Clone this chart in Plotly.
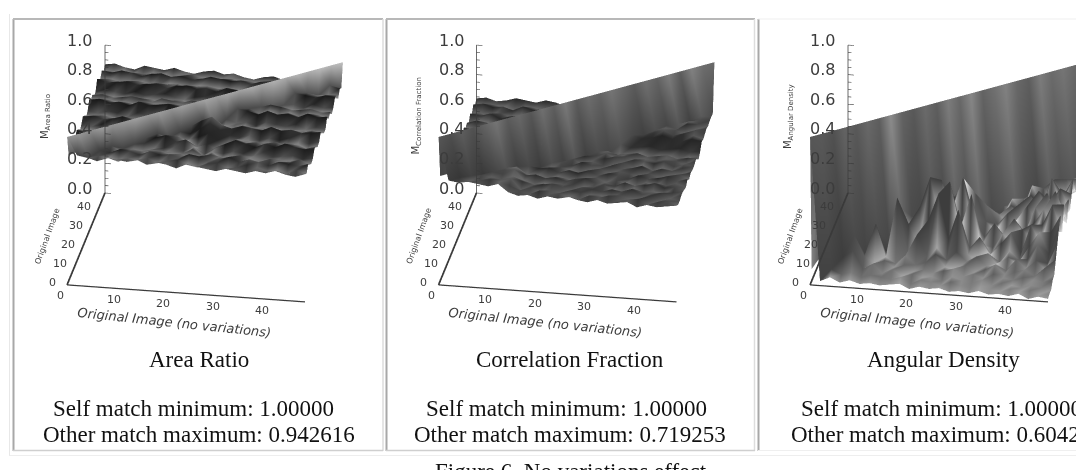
import math
import numpy as np
import plotly.graph_objects as go

# Match scores on a 2-unit image grid, in hundredths.
# Rows run from image 48 (back) down to image 0 (front); columns run from image 0 to 48.
image_index = list(range(0, 49, 2))
self_match = 1.0

area_ratio = [
    [87,88,86,85,88,87,86,88,86,85,87,88,86,87,85,84,86,87,85,86,88,87,85,86,88],
    [84,85,86,84,85,86,85,84,86,87,85,84,85,86,84,85,84,83,85,86,84,85,86,84,85],
    [88,87,89,88,86,88,89,87,88,86,87,89,88,87,88,86,88,89,87,88,86,87,88,89,87],
    [85,84,83,85,84,82,84,85,83,84,85,83,84,82,84,85,84,86,83,84,85,83,84,85,83],
    [86,88,87,86,88,87,85,87,88,86,87,88,86,88,87,84,87,88,86,87,85,88,87,86,88],
    [90,88,89,90,88,89,90,87,89,90,88,89,87,90,89,88,90,89,88,87,90,89,88,90,89],
    [84,86,85,84,86,84,85,86,84,83,85,86,84,85,83,86,84,85,86,84,85,83,86,84,85],
    [83,82,84,83,81,83,84,82,83,85,82,83,84,82,83,84,82,85,83,82,84,83,82,84,83],
    [87,88,86,87,88,87,85,88,87,86,88,87,89,86,87,88,86,87,89,88,86,87,88,86,87],
    [86,85,87,85,86,84,87,86,85,87,86,84,86,87,85,86,88,85,86,84,87,85,86,87,85],
    [89,90,88,89,87,90,88,89,90,88,89,90,87,89,88,90,89,87,90,88,89,87,90,88,89],
    [84,83,85,84,82,85,84,83,84,85,83,84,81,84,85,83,84,82,85,84,83,85,82,84,83],
    [82,84,83,81,84,82,83,84,81,83,82,84,83,80,82,84,83,81,84,82,83,81,84,82,83],
    [86,85,87,86,84,86,87,85,86,87,85,86,88,85,86,84,87,86,85,87,84,86,85,87,86],
    [88,89,87,88,90,87,88,89,87,90,88,87,91,94,89,87,89,88,87,90,88,89,87,88,89],
    [85,84,86,85,83,86,84,85,83,86,85,84,88,92,88,85,84,86,83,85,84,86,85,83,85],
    [83,85,82,84,83,81,84,82,85,83,81,82,85,88,84,82,83,85,82,84,81,83,85,82,84],
    [87,86,88,86,87,89,85,87,88,86,87,85,81,83,80,84,88,86,87,85,88,86,87,85,87],
    [89,87,90,88,86,89,90,87,88,90,86,88,83,79,84,87,90,88,86,89,87,90,88,87,88],
    [84,86,83,85,84,82,85,86,83,84,85,83,86,80,85,83,85,84,82,86,83,84,85,83,84],
    [82,83,85,81,83,84,82,83,85,82,84,83,87,83,86,82,84,81,85,83,82,84,83,81,83],
    [86,87,85,86,88,85,87,86,84,87,85,86,84,85,87,86,85,88,86,84,87,85,86,88,85],
    [88,86,89,87,86,89,88,86,89,87,88,86,89,88,85,87,89,86,88,87,85,88,87,86,88],
    [85,87,84,86,85,83,86,85,87,84,86,87,85,83,86,87,84,85,87,86,84,85,83,86,84],
    [86,88,87,85,88,87,86,88,85,87,86,84,87,86,85,84,86,85,84,86,85,87,85,84,87],
]

correlation_fraction = [
    [64,65,63,64,66,65,64,66,65,63,65,64,66,65,64,63,65,64,66,65,63,65,64,66,65],
    [62,61,63,62,60,62,63,61,62,60,62,63,61,60,62,61,63,62,60,62,61,63,62,60,68],
    [65,66,64,65,63,66,64,65,66,64,63,65,64,66,65,63,64,66,65,63,64,65,63,68,68],
    [61,62,60,63,61,62,60,61,63,62,61,60,62,61,63,60,62,61,63,60,62,62,67,68,68],
    [64,63,65,62,64,65,63,64,62,65,63,64,65,63,62,64,65,63,64,62,63,67,69,68,67],
    [60,62,61,59,61,62,60,62,61,59,62,60,61,62,60,61,59,62,60,61,68,66,70,67,68],
    [63,65,64,62,65,63,64,65,62,64,65,63,62,64,65,63,64,62,65,67,69,68,66,69,67],
    [62,60,63,61,60,62,63,60,62,61,63,60,62,61,60,62,63,61,66,68,70,67,69,68,66],
    [65,64,62,65,63,64,66,63,65,62,64,65,63,64,66,63,65,68,66,67,69,67,66,68,67],
    [61,63,62,60,62,61,63,61,60,63,62,61,63,60,62,61,64,62,63,64,62,63,64,62,63],
    [64,62,65,63,61,64,62,65,63,64,62,65,63,61,64,60,59,60,61,59,60,60,59,61,60],
    [62,64,61,63,65,62,64,63,61,65,63,62,64,63,63,64,62,63,64,62,63,64,62,63,64],
    [62,64,63,61,64,62,63,65,62,64,63,61,64,62,63,65,62,64,61,63,62,64,63,61,64],
    [65,63,66,64,62,65,63,64,66,63,65,64,62,65,63,64,66,62,65,64,63,65,62,64,63],
    [66,68,66,67,65,66,63,61,63,64,62,63,65,61,64,62,63,65,62,64,61,63,62,64,63],
    [68,67,69,68,67,66,68,65,64,66,64,65,63,66,64,62,65,63,64,66,63,65,64,62,64],
    [66,68,67,69,68,70,67,68,66,63,62,64,63,61,63,65,62,64,63,61,64,62,63,65,62],
    [70,69,68,70,69,71,68,69,66,65,66,63,65,64,66,63,65,64,62,65,63,64,66,63,65],
    [68,70,69,68,70,69,71,68,63,62,61,63,62,60,62,64,61,63,62,60,63,61,62,64,62],
    [70,71,70,69,71,70,69,70,65,66,64,65,63,65,66,63,64,62,65,63,64,66,63,64,63],
    [69,70,72,71,70,69,70,71,64,62,63,61,63,64,62,63,65,62,61,64,62,63,61,63,64],
    [71,69,70,71,69,71,70,69,66,64,65,66,64,62,65,64,63,65,64,66,63,64,65,62,64],
    [70,71,69,70,71,70,69,70,63,65,62,64,63,65,64,62,63,61,64,62,63,65,62,64,63],
    [71,70,71,69,70,71,70,68,65,63,66,64,65,63,62,65,64,66,63,64,65,62,64,65,63],
    [70,71,70,71,70,69,71,66,64,65,63,65,64,66,64,63,65,63,64,65,62,64,63,64,65],
]

angular_density = [
    [18,16,20,15,17,19,16,15,18,17,16,19,17,15,18,16,19,17,16,18,17,15,18,16,24],
    [15,18,16,19,16,17,18,15,17,16,19,16,18,17,15,19,16,17,18,16,18,17,19,22,26],
    [19,16,17,15,18,16,18,20,16,17,19,15,17,19,16,18,16,17,19,17,15,18,21,24,28],
    [16,18,15,18,17,19,16,17,19,16,15,18,17,18,16,19,17,16,15,19,17,20,24,28,30],
    [18,15,19,16,17,16,18,17,15,19,18,16,19,16,17,15,18,17,20,16,18,22,26,30,26],
    [16,17,17,19,15,18,16,19,17,16,18,17,15,18,19,16,17,19,16,18,20,24,32,26,34],
    [18,16,18,16,19,17,15,17,19,16,18,16,19,17,15,18,16,18,19,22,19,30,24,36,28],
    [17,19,16,17,16,18,20,16,17,18,15,19,16,18,19,16,17,15,20,18,28,22,38,26,32],
    [15,17,19,16,18,16,17,19,15,18,16,17,16,19,17,18,16,20,18,26,20,34,24,30,42],
    [18,16,18,17,16,19,16,18,17,16,19,17,15,18,16,20,18,17,28,20,38,24,44,26,34],
    [16,19,17,18,19,15,18,16,17,19,16,18,17,19,18,16,22,14,26,18,34,20,30,40,26],
    [17,16,20,16,17,18,17,19,16,18,17,16,19,17,14,24,16,22,16,30,18,40,24,18,36],
    [19,17,16,18,16,18,15,17,19,16,20,17,19,12,22,14,30,18,26,14,32,20,42,26,22],
    [16,18,17,20,15,19,17,16,18,17,15,19,16,30,18,40,22,16,12,24,16,34,22,46,30],
    [18,16,19,17,18,16,19,18,16,19,17,12,28,40,52,26,14,24,14,28,18,26,36,20,40],
    [19,17,16,19,18,15,18,20,17,15,14,34,44,22,56,18,12,10,20,12,24,16,28,42,24],
    [17,19,18,16,20,17,20,16,14,30,16,44,56,36,24,48,12,8,16,24,10,30,18,26,38],
    [20,16,18,20,17,21,16,18,38,14,40,60,30,58,26,14,22,10,6,14,8,18,28,14,32],
    [17,20,17,19,21,24,18,16,12,30,16,34,52,22,42,12,8,14,6,12,8,12,22,10,24],
    [20,18,20,17,16,20,28,10,50,12,26,12,18,10,16,10,14,8,10,6,14,8,14,8,16],
    [16,21,18,24,17,12,34,12,8,14,8,10,16,8,6,10,6,8,12,6,8,10,6,12,8],
    [19,15,17,21,28,14,10,12,8,10,6,8,6,8,10,5,7,5,8,6,5,7,6,5,7],
    [12,17,10,15,20,8,12,6,9,5,7,5,6,4,7,5,4,6,3,5,4,3,5,4,3],
    [8,6,9,6,8,5,7,6,5,7,3,6,5,3,6,4,3,4,3,2,4,3,4,2,3],
    [6,3,6,3,5,3,4,3,4,5,2,4,3,4,2,3,2,4,2,3,2,4,1,3,2],
]

# Grey level of the ridge crest at each image index.
area_ridge_tone = [58,60,55,62,58,60,63,60,62,58,63,60,65,62,66,64,68,65,70,67,72,68,74,72,76]
correlation_ridge_tone = [34,31,37,32,39,46,36,41,34,44,37,48,36,43,39,46,41,36,44,39,49,37,51,43,41]
angular_ridge_tone = [34,35,32,39,35,41,37,55,39,35,42,37,49,41,53,39,44,51,41,37,49,42,46,41,44]

panel_titles = ["Area Ratio", "Correlation Fraction", "Angular Density"]
self_lines = ["Self match minimum: 1.00000"] * 3
other_lines = ["Other match maximum: 0.942616", "Other match maximum: 0.719253", "Other match maximum: 0.6042"]
z_titles = ["M<sub>Area Ratio</sub>", "M<sub>Correlation Fraction</sub>", "M<sub>Angular Density</sub>"]
z_ticks = [0.0, 0.2, 0.4, 0.6, 0.8, 1.0]
x_ticks = [10, 20, 30, 40]
y_ticks = [0, 10, 20, 30, 40]
AXIS_MAX = 48

W, H = 1076, 470
AZ = math.radians(9.75)
EL = math.radians(24.6)
ASPECT = dict(x=1.392, y=1.291, z=0.938)
EYE_DIST = 2.0
PX_PER_UNIT = 173.5
SCENE_H = 347
PANEL_INK = "#3a3a3a"
TEXT_INK = "#3c3c3c"


def shaded(values, tone, base, gain, soft, foot):
    """Hill-shade a score matrix into grey levels, with the diagonal taken from tone."""
    z = np.array(values, dtype=float) / 100.0
    n = z.shape[0]
    toward_viewer = np.zeros_like(z)
    toward_viewer[:-1, :] = z[:-1, :] - z[1:, :]
    across = np.zeros_like(z)
    across[:, :-1] = z[:, 1:] - z[:, :-1]
    grey = base - gain * np.tanh((toward_viewer + 0.4 * across) / soft)
    for j in range(n):
        k = n - 1 - j
        z[k, j] = self_match
        grey[k, j] = tone[j] / 100.0
        if j + 1 < n:
            grey[k, j + 1] = tone[j] / 100.0 * foot
    return z[::-1], grey[::-1]


def cell_triangles(n):
    """Vertex indices for the grid, with each cell split along the self-match line."""
    i, j, k = [], [], []
    for r in range(n - 1):
        for c in range(n - 1):
            a, b, d, e = r * n + c, r * n + c + 1, (r + 1) * n + c, (r + 1) * n + c + 1
            i += [a, a]
            j += [b, e]
            k += [e, d]
    return i, j, k


panels = [
    (area_ratio, area_ridge_tone, 0.34, 0.26, 0.035, 0.45),
    (correlation_fraction, correlation_ridge_tone, 0.30, 0.16, 0.03, 0.70),
    (angular_density, angular_ridge_tone, 0.58, 0.34, 0.06, 0.75),
]
# Left edge, right edge and the x pixel of the cube centre for each panel.
frames = [(0, 410, 205.0), (371, 782, 576.5), (756, 1076, 948.0)]
grey_scale = [[0, "#000000"], [1, "#ffffff"]]
grid_x, grid_y = np.meshgrid(image_index, image_index)
tri_i, tri_j, tri_k = cell_triangles(len(image_index))


def scene_layout(left, right, cube_cx, annotations=None):
    mid = (left + right) / 2.0
    off = (cube_cx - mid) / PX_PER_UNIT
    cx, cy = -off * math.cos(AZ), -off * math.sin(AZ)
    hidden = dict(visible=False, showgrid=False, zeroline=False, showspikes=False)
    return dict(
        domain=dict(x=[left / W, right / W], y=[1 - SCENE_H / H, 1]),
        aspectmode="manual",
        aspectratio=ASPECT,
        bgcolor="rgba(0,0,0,0)",
        xaxis=dict(range=[0, AXIS_MAX], **hidden),
        yaxis=dict(range=[0, AXIS_MAX], **hidden),
        zaxis=dict(range=[0, 1], **hidden),
        camera=dict(
            projection=dict(type="orthographic"),
            up=dict(x=0, y=0, z=1),
            center=dict(x=cx, y=cy, z=0),
            eye=dict(
                x=cx + EYE_DIST * math.cos(EL) * math.sin(AZ),
                y=cy - EYE_DIST * math.cos(EL) * math.cos(AZ),
                z=EYE_DIST * math.sin(EL),
            ),
        ),
        annotations=annotations or [],
    )


def note(x, y, z, text, dx, dy, size=12, angle=0, font="DejaVu Sans"):
    return dict(
        x=x, y=y, z=z, text=text, showarrow=False, xshift=dx, yshift=-dy, textangle=angle,
        font=dict(family=font, size=size, color=TEXT_INK),
    )


def axis_frame(scene_name):
    """Axis lines and tick marks, held in a scene laid over the surface."""
    out = []
    lines = [
        ([0, AXIS_MAX], [0, 0], [0, 0], 2.5),
        ([0, 0], [0, AXIS_MAX], [0, 0], 3.5),
        ([0, 0], [AXIS_MAX, AXIS_MAX], [0, 1], 1.5),
    ]
    for xs, ys, zs, width in lines:
        out.append(go.Scatter3d(x=xs, y=ys, z=zs, mode="lines", scene=scene_name, hoverinfo="skip",
                                showlegend=False, line=dict(color=PANEL_INK, width=width)))
    tick_x, tick_y, tick_z = [], [], []
    for v in np.arange(0, 1.0001, 0.05):
        reach = 1.2 if round(v * 100) % 20 == 0 else 0.7
        tick_x += [0, reach, None]
        tick_y += [AXIS_MAX, AXIS_MAX, None]
        tick_z += [float(v), float(v), None]
    out.append(go.Scatter3d(x=tick_x, y=tick_y, z=tick_z, mode="lines", scene=scene_name, hoverinfo="skip",
                            showlegend=False, line=dict(color=PANEL_INK, width=1.2)))
    return out


fig = go.Figure()
scenes = {}
for p, (values, tone, base, gain, soft, foot) in enumerate(panels):
    z, grey = shaded(values, tone, base, gain, soft, foot)
    left, right, cube_cx = frames[p]
    surf_name = f"scene{2 * p + 1}" if p else "scene"
    over_name = f"scene{2 * p + 2}"
    fig.add_trace(go.Mesh3d(
        x=grid_x.ravel(), y=grid_y.ravel(), z=z.ravel(), i=tri_i, j=tri_j, k=tri_k,
        intensity=grey.ravel(), intensitymode="vertex", scene=surf_name,
        colorscale=grey_scale, cmin=0, cmax=1, showscale=False, hoverinfo="skip",
        lighting=dict(ambient=1, diffuse=0, specular=0, fresnel=0, roughness=1),
    ))
    for trace in axis_frame(over_name):
        fig.add_trace(trace)

    labels = []
    for t in z_ticks:
        labels.append(note(0, AXIS_MAX, t, f"{t:.1f}", -25, -5, size=16))
    for t in x_ticks:
        labels.append(note(t, 0, 0, str(t), -3, 11, size=11))
    labels.append(note(0, 0, 0, "0", -7, 11, size=11))
    for t in y_ticks:
        labels.append(note(0, t, 0, str(t), -15, -2, size=11))
    labels.append(note(24, 0, 0, "<i>Original Image (no variations)</i>", -12, 29, size=13, angle=6))
    labels.append(note(0, 24, 0, "Original Image", -38, -3, size=8, angle=-70))
    labels.append(note(0, AXIS_MAX, 0.52, z_titles[p], -60, 0, size=10, angle=-90))

    scenes[surf_name] = scene_layout(left, right, cube_cx)
    scenes[over_name] = scene_layout(left, right, cube_cx, labels)

# Table rules: (x0, y0, x1, y1, colour, width).
rules = [
    (9.5, 14, 9.5, 456, "#e8e8e8", 1),
    (9.5, 455.5, 1076, 455.5, "#eeeeee", 1),
    (13.5, 19, 13.5, 451, "#a8a8a8", 2),
    (13, 19, 383, 19, "#b8b8b8", 2),
    (383, 19, 383, 451, "#dddddd", 1.5),
    (13, 450.5, 383, 450.5, "#cfcfcf", 1.5),
    (386.5, 19, 386.5, 451, "#a8a8a8", 2),
    (386, 19, 755, 19, "#b8b8b8", 2),
    (754.5, 19, 754.5, 451, "#dddddd", 1.5),
    (386, 450.5, 755, 450.5, "#cfcfcf", 1.5),
    (758.5, 19, 758.5, 451, "#a8a8a8", 2),
    (758, 19, 1076, 19, "#efefef", 1),
    (758, 450.5, 1076, 450.5, "#efefef", 1),
]
shapes = [
    dict(type="line", xref="paper", yref="paper", x0=x0 / W, x1=x1 / W, y0=1 - y0 / H, y1=1 - y1 / H,
         layer="below", line=dict(color=colour, width=width))
    for x0, y0, x1, y1, colour, width in rules
]


def caption(x, y, text, anchor="center"):
    return dict(x=x / W, y=1 - y / H, xref="paper", yref="paper", text=text, showarrow=False,
                xanchor=anchor, yanchor="middle",
                font=dict(family="Liberation Serif", size=23, color="#111111"))


notes = [
    caption(199, 359, panel_titles[0]), caption(570, 359, panel_titles[1]), caption(943, 359, panel_titles[2]),
    caption(193, 408, self_lines[0]), caption(566, 408, self_lines[1]), caption(799, 408, self_lines[2], "left"),
    caption(199, 434, other_lines[0]), caption(570, 434, other_lines[1]), caption(789, 434, other_lines[2], "left"),
    caption(571, 472, "Figure 6. No variations effect"),
]

fig.update_layout(width=W, height=H, margin=dict(l=0, r=0, t=0, b=0), paper_bgcolor="white",
                  plot_bgcolor="white", showlegend=False, shapes=shapes, annotations=notes, **scenes)
fig.write_html("out.html", config=dict(displayModeBar=False))
